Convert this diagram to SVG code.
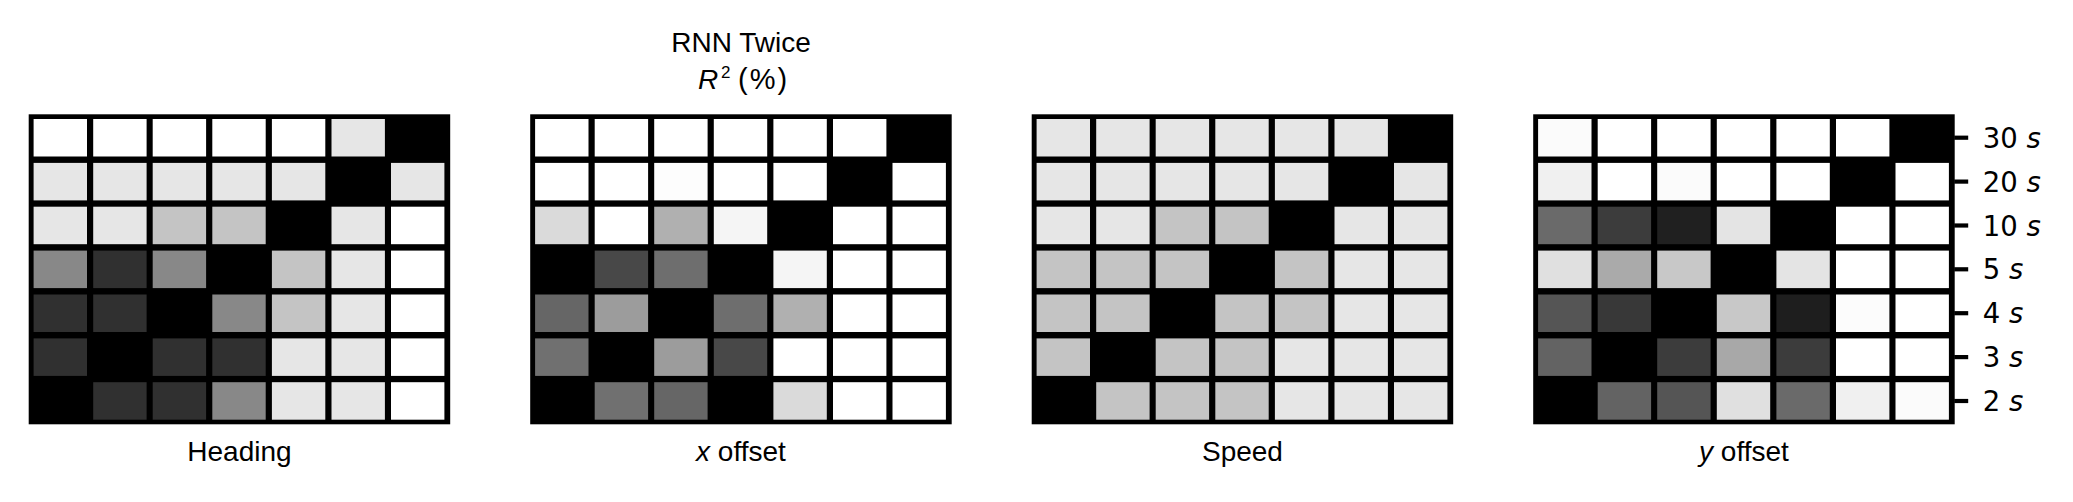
<svg xmlns="http://www.w3.org/2000/svg" width="2073" height="502" viewBox="0 0 2073 502">
<style>
.frame{fill:#000}
.lbl{font-family:"Liberation Sans",Arial,sans-serif;font-size:28px;fill:#000;text-anchor:middle}
.it{font-style:italic}
.tick{font-family:"DejaVu Sans",sans-serif;font-size:27.5px;fill:#000}
.tk{stroke:#000;stroke-width:4.2}
</style>
<rect width="2073" height="502" fill="#fff"/>
<g id="title">
<text class="lbl" x="741" y="51.7">RNN Twice</text>
<text font-family="Liberation Sans,Arial,sans-serif" font-size="28" y="89.3"><tspan x="698" font-style="italic">R</tspan><tspan x="721" y="78.3" font-size="17">2</tspan><tspan x="738" y="89.3" font-size="29" letter-spacing="2">(%)</tspan></text>
</g>

<g id="panel-heading" transform="translate(28.7,0)">
<rect class="frame" x="0" y="114.3" width="421.5" height="310"/>
<g>
<rect x="4.9" y="119" width="53.4" height="37.5" fill="#fff"/><rect x="64.5" y="119" width="53.4" height="37.5" fill="#fff"/><rect x="124" y="119" width="53.4" height="37.5" fill="#fff"/><rect x="183.6" y="119" width="53.4" height="37.5" fill="#fff"/><rect x="243.2" y="119" width="53.4" height="37.5" fill="#fff"/><rect x="302.8" y="119" width="53.4" height="37.5" fill="#e6e6e6"/><rect x="362.3" y="119" width="53.4" height="37.5" fill="#000"/>
<rect x="4.9" y="162.9" width="53.4" height="37.5" fill="#e6e6e6"/><rect x="64.5" y="162.9" width="53.4" height="37.5" fill="#e6e6e6"/><rect x="124" y="162.9" width="53.4" height="37.5" fill="#e6e6e6"/><rect x="183.6" y="162.9" width="53.4" height="37.5" fill="#e6e6e6"/><rect x="243.2" y="162.9" width="53.4" height="37.5" fill="#e6e6e6"/><rect x="302.8" y="162.9" width="53.4" height="37.5" fill="#000"/><rect x="362.3" y="162.9" width="53.4" height="37.5" fill="#e6e6e6"/>
<rect x="4.9" y="206.7" width="53.4" height="37.5" fill="#e6e6e6"/><rect x="64.5" y="206.7" width="53.4" height="37.5" fill="#e6e6e6"/><rect x="124" y="206.7" width="53.4" height="37.5" fill="#c4c4c4"/><rect x="183.6" y="206.7" width="53.4" height="37.5" fill="#c4c4c4"/><rect x="243.2" y="206.7" width="53.4" height="37.5" fill="#000"/><rect x="302.8" y="206.7" width="53.4" height="37.5" fill="#e6e6e6"/><rect x="362.3" y="206.7" width="53.4" height="37.5" fill="#fff"/>
<rect x="4.9" y="250.6" width="53.4" height="37.5" fill="#888"/><rect x="64.5" y="250.6" width="53.4" height="37.5" fill="#303030"/><rect x="124" y="250.6" width="53.4" height="37.5" fill="#888"/><rect x="183.6" y="250.6" width="53.4" height="37.5" fill="#000"/><rect x="243.2" y="250.6" width="53.4" height="37.5" fill="#c4c4c4"/><rect x="302.8" y="250.6" width="53.4" height="37.5" fill="#e6e6e6"/><rect x="362.3" y="250.6" width="53.4" height="37.5" fill="#fff"/>
<rect x="4.9" y="294.5" width="53.4" height="37.5" fill="#303030"/><rect x="64.5" y="294.5" width="53.4" height="37.5" fill="#303030"/><rect x="124" y="294.5" width="53.4" height="37.5" fill="#000"/><rect x="183.6" y="294.5" width="53.4" height="37.5" fill="#888"/><rect x="243.2" y="294.5" width="53.4" height="37.5" fill="#c4c4c4"/><rect x="302.8" y="294.5" width="53.4" height="37.5" fill="#e6e6e6"/><rect x="362.3" y="294.5" width="53.4" height="37.5" fill="#fff"/>
<rect x="4.9" y="338.4" width="53.4" height="37.5" fill="#303030"/><rect x="64.5" y="338.4" width="53.4" height="37.5" fill="#000"/><rect x="124" y="338.4" width="53.4" height="37.5" fill="#303030"/><rect x="183.6" y="338.4" width="53.4" height="37.5" fill="#303030"/><rect x="243.2" y="338.4" width="53.4" height="37.5" fill="#e6e6e6"/><rect x="302.8" y="338.4" width="53.4" height="37.5" fill="#e6e6e6"/><rect x="362.3" y="338.4" width="53.4" height="37.5" fill="#fff"/>
<rect x="4.9" y="382.2" width="53.4" height="37.5" fill="#000"/><rect x="64.5" y="382.2" width="53.4" height="37.5" fill="#303030"/><rect x="124" y="382.2" width="53.4" height="37.5" fill="#303030"/><rect x="183.6" y="382.2" width="53.4" height="37.5" fill="#888"/><rect x="243.2" y="382.2" width="53.4" height="37.5" fill="#e6e6e6"/><rect x="302.8" y="382.2" width="53.4" height="37.5" fill="#e6e6e6"/><rect x="362.3" y="382.2" width="53.4" height="37.5" fill="#fff"/>
</g>
<text class="lbl" x="210.75" y="461">Heading</text>
</g>

<g id="panel-xoffset" transform="translate(530.2,0)">
<rect class="frame" x="0" y="114.3" width="421.5" height="310"/>
<g>
<rect x="4.9" y="119" width="53.4" height="37.5" fill="#fff"/><rect x="64.5" y="119" width="53.4" height="37.5" fill="#fff"/><rect x="124" y="119" width="53.4" height="37.5" fill="#fff"/><rect x="183.6" y="119" width="53.4" height="37.5" fill="#fff"/><rect x="243.2" y="119" width="53.4" height="37.5" fill="#fff"/><rect x="302.8" y="119" width="53.4" height="37.5" fill="#fff"/><rect x="362.3" y="119" width="53.4" height="37.5" fill="#000"/>
<rect x="4.9" y="162.9" width="53.4" height="37.5" fill="#fff"/><rect x="64.5" y="162.9" width="53.4" height="37.5" fill="#fff"/><rect x="124" y="162.9" width="53.4" height="37.5" fill="#fdfdfd"/><rect x="183.6" y="162.9" width="53.4" height="37.5" fill="#fff"/><rect x="243.2" y="162.9" width="53.4" height="37.5" fill="#fff"/><rect x="302.8" y="162.9" width="53.4" height="37.5" fill="#000"/><rect x="362.3" y="162.9" width="53.4" height="37.5" fill="#fff"/>
<rect x="4.9" y="206.7" width="53.4" height="37.5" fill="#dadada"/><rect x="64.5" y="206.7" width="53.4" height="37.5" fill="#fff"/><rect x="124" y="206.7" width="53.4" height="37.5" fill="#b0b0b0"/><rect x="183.6" y="206.7" width="53.4" height="37.5" fill="#f5f5f5"/><rect x="243.2" y="206.7" width="53.4" height="37.5" fill="#000"/><rect x="302.8" y="206.7" width="53.4" height="37.5" fill="#fff"/><rect x="362.3" y="206.7" width="53.4" height="37.5" fill="#fff"/>
<rect x="4.9" y="250.6" width="53.4" height="37.5" fill="#000"/><rect x="64.5" y="250.6" width="53.4" height="37.5" fill="#484848"/><rect x="124" y="250.6" width="53.4" height="37.5" fill="#6e6e6e"/><rect x="183.6" y="250.6" width="53.4" height="37.5" fill="#000"/><rect x="243.2" y="250.6" width="53.4" height="37.5" fill="#f5f5f5"/><rect x="302.8" y="250.6" width="53.4" height="37.5" fill="#fff"/><rect x="362.3" y="250.6" width="53.4" height="37.5" fill="#fff"/>
<rect x="4.9" y="294.5" width="53.4" height="37.5" fill="#666"/><rect x="64.5" y="294.5" width="53.4" height="37.5" fill="#9c9c9c"/><rect x="124" y="294.5" width="53.4" height="37.5" fill="#000"/><rect x="183.6" y="294.5" width="53.4" height="37.5" fill="#6e6e6e"/><rect x="243.2" y="294.5" width="53.4" height="37.5" fill="#b0b0b0"/><rect x="302.8" y="294.5" width="53.4" height="37.5" fill="#fff"/><rect x="362.3" y="294.5" width="53.4" height="37.5" fill="#fff"/>
<rect x="4.9" y="338.4" width="53.4" height="37.5" fill="#707070"/><rect x="64.5" y="338.4" width="53.4" height="37.5" fill="#000"/><rect x="124" y="338.4" width="53.4" height="37.5" fill="#9c9c9c"/><rect x="183.6" y="338.4" width="53.4" height="37.5" fill="#484848"/><rect x="243.2" y="338.4" width="53.4" height="37.5" fill="#fff"/><rect x="302.8" y="338.4" width="53.4" height="37.5" fill="#fff"/><rect x="362.3" y="338.4" width="53.4" height="37.5" fill="#fff"/>
<rect x="4.9" y="382.2" width="53.4" height="37.5" fill="#000"/><rect x="64.5" y="382.2" width="53.4" height="37.5" fill="#707070"/><rect x="124" y="382.2" width="53.4" height="37.5" fill="#666"/><rect x="183.6" y="382.2" width="53.4" height="37.5" fill="#000"/><rect x="243.2" y="382.2" width="53.4" height="37.5" fill="#dadada"/><rect x="302.8" y="382.2" width="53.4" height="37.5" fill="#fff"/><rect x="362.3" y="382.2" width="53.4" height="37.5" fill="#fff"/>
</g>
<text class="lbl" x="210.75" y="461"><tspan class="it">x</tspan> offset</text>
</g>

<g id="panel-speed" transform="translate(1031.7,0)">
<rect class="frame" x="0" y="114.3" width="421.5" height="310"/>
<g>
<rect x="4.9" y="119" width="53.4" height="37.5" fill="#e6e6e6"/><rect x="64.5" y="119" width="53.4" height="37.5" fill="#e6e6e6"/><rect x="124" y="119" width="53.4" height="37.5" fill="#e6e6e6"/><rect x="183.6" y="119" width="53.4" height="37.5" fill="#e6e6e6"/><rect x="243.2" y="119" width="53.4" height="37.5" fill="#e6e6e6"/><rect x="302.8" y="119" width="53.4" height="37.5" fill="#e6e6e6"/><rect x="362.3" y="119" width="53.4" height="37.5" fill="#000"/>
<rect x="4.9" y="162.9" width="53.4" height="37.5" fill="#e6e6e6"/><rect x="64.5" y="162.9" width="53.4" height="37.5" fill="#e6e6e6"/><rect x="124" y="162.9" width="53.4" height="37.5" fill="#e6e6e6"/><rect x="183.6" y="162.9" width="53.4" height="37.5" fill="#e6e6e6"/><rect x="243.2" y="162.9" width="53.4" height="37.5" fill="#e6e6e6"/><rect x="302.8" y="162.9" width="53.4" height="37.5" fill="#000"/><rect x="362.3" y="162.9" width="53.4" height="37.5" fill="#e6e6e6"/>
<rect x="4.9" y="206.7" width="53.4" height="37.5" fill="#e6e6e6"/><rect x="64.5" y="206.7" width="53.4" height="37.5" fill="#e6e6e6"/><rect x="124" y="206.7" width="53.4" height="37.5" fill="#c4c4c4"/><rect x="183.6" y="206.7" width="53.4" height="37.5" fill="#c4c4c4"/><rect x="243.2" y="206.7" width="53.4" height="37.5" fill="#000"/><rect x="302.8" y="206.7" width="53.4" height="37.5" fill="#e6e6e6"/><rect x="362.3" y="206.7" width="53.4" height="37.5" fill="#e6e6e6"/>
<rect x="4.9" y="250.6" width="53.4" height="37.5" fill="#c4c4c4"/><rect x="64.5" y="250.6" width="53.4" height="37.5" fill="#c4c4c4"/><rect x="124" y="250.6" width="53.4" height="37.5" fill="#c4c4c4"/><rect x="183.6" y="250.6" width="53.4" height="37.5" fill="#000"/><rect x="243.2" y="250.6" width="53.4" height="37.5" fill="#c4c4c4"/><rect x="302.8" y="250.6" width="53.4" height="37.5" fill="#e6e6e6"/><rect x="362.3" y="250.6" width="53.4" height="37.5" fill="#e6e6e6"/>
<rect x="4.9" y="294.5" width="53.4" height="37.5" fill="#c4c4c4"/><rect x="64.5" y="294.5" width="53.4" height="37.5" fill="#c4c4c4"/><rect x="124" y="294.5" width="53.4" height="37.5" fill="#000"/><rect x="183.6" y="294.5" width="53.4" height="37.5" fill="#c4c4c4"/><rect x="243.2" y="294.5" width="53.4" height="37.5" fill="#c4c4c4"/><rect x="302.8" y="294.5" width="53.4" height="37.5" fill="#e6e6e6"/><rect x="362.3" y="294.5" width="53.4" height="37.5" fill="#e6e6e6"/>
<rect x="4.9" y="338.4" width="53.4" height="37.5" fill="#c4c4c4"/><rect x="64.5" y="338.4" width="53.4" height="37.5" fill="#000"/><rect x="124" y="338.4" width="53.4" height="37.5" fill="#c4c4c4"/><rect x="183.6" y="338.4" width="53.4" height="37.5" fill="#c4c4c4"/><rect x="243.2" y="338.4" width="53.4" height="37.5" fill="#e6e6e6"/><rect x="302.8" y="338.4" width="53.4" height="37.5" fill="#e6e6e6"/><rect x="362.3" y="338.4" width="53.4" height="37.5" fill="#e6e6e6"/>
<rect x="4.9" y="382.2" width="53.4" height="37.5" fill="#000"/><rect x="64.5" y="382.2" width="53.4" height="37.5" fill="#c4c4c4"/><rect x="124" y="382.2" width="53.4" height="37.5" fill="#c4c4c4"/><rect x="183.6" y="382.2" width="53.4" height="37.5" fill="#c4c4c4"/><rect x="243.2" y="382.2" width="53.4" height="37.5" fill="#e6e6e6"/><rect x="302.8" y="382.2" width="53.4" height="37.5" fill="#e6e6e6"/><rect x="362.3" y="382.2" width="53.4" height="37.5" fill="#e6e6e6"/>
</g>
<text class="lbl" x="210.75" y="461">Speed</text>
</g>

<g id="panel-yoffset" transform="translate(1533.2,0)">
<rect class="frame" x="0" y="114.3" width="421.5" height="310"/>
<g>
<rect x="4.9" y="119" width="53.4" height="37.5" fill="#fbfbfb"/><rect x="64.5" y="119" width="53.4" height="37.5" fill="#fff"/><rect x="124" y="119" width="53.4" height="37.5" fill="#fff"/><rect x="183.6" y="119" width="53.4" height="37.5" fill="#fff"/><rect x="243.2" y="119" width="53.4" height="37.5" fill="#fff"/><rect x="302.8" y="119" width="53.4" height="37.5" fill="#fff"/><rect x="362.3" y="119" width="53.4" height="37.5" fill="#000"/>
<rect x="4.9" y="162.9" width="53.4" height="37.5" fill="#f0f0f0"/><rect x="64.5" y="162.9" width="53.4" height="37.5" fill="#fff"/><rect x="124" y="162.9" width="53.4" height="37.5" fill="#fbfbfb"/><rect x="183.6" y="162.9" width="53.4" height="37.5" fill="#fff"/><rect x="243.2" y="162.9" width="53.4" height="37.5" fill="#fff"/><rect x="302.8" y="162.9" width="53.4" height="37.5" fill="#000"/><rect x="362.3" y="162.9" width="53.4" height="37.5" fill="#fff"/>
<rect x="4.9" y="206.7" width="53.4" height="37.5" fill="#6a6a6a"/><rect x="64.5" y="206.7" width="53.4" height="37.5" fill="#3c3c3c"/><rect x="124" y="206.7" width="53.4" height="37.5" fill="#202020"/><rect x="183.6" y="206.7" width="53.4" height="37.5" fill="#e4e4e4"/><rect x="243.2" y="206.7" width="53.4" height="37.5" fill="#000"/><rect x="302.8" y="206.7" width="53.4" height="37.5" fill="#fff"/><rect x="362.3" y="206.7" width="53.4" height="37.5" fill="#fff"/>
<rect x="4.9" y="250.6" width="53.4" height="37.5" fill="#e0e0e0"/><rect x="64.5" y="250.6" width="53.4" height="37.5" fill="#aaa"/><rect x="124" y="250.6" width="53.4" height="37.5" fill="#c8c8c8"/><rect x="183.6" y="250.6" width="53.4" height="37.5" fill="#000"/><rect x="243.2" y="250.6" width="53.4" height="37.5" fill="#e4e4e4"/><rect x="302.8" y="250.6" width="53.4" height="37.5" fill="#fff"/><rect x="362.3" y="250.6" width="53.4" height="37.5" fill="#fff"/>
<rect x="4.9" y="294.5" width="53.4" height="37.5" fill="#555"/><rect x="64.5" y="294.5" width="53.4" height="37.5" fill="#383838"/><rect x="124" y="294.5" width="53.4" height="37.5" fill="#000"/><rect x="183.6" y="294.5" width="53.4" height="37.5" fill="#c8c8c8"/><rect x="243.2" y="294.5" width="53.4" height="37.5" fill="#1e1e1e"/><rect x="302.8" y="294.5" width="53.4" height="37.5" fill="#fcfcfc"/><rect x="362.3" y="294.5" width="53.4" height="37.5" fill="#fff"/>
<rect x="4.9" y="338.4" width="53.4" height="37.5" fill="#636363"/><rect x="64.5" y="338.4" width="53.4" height="37.5" fill="#000"/><rect x="124" y="338.4" width="53.4" height="37.5" fill="#3c3c3c"/><rect x="183.6" y="338.4" width="53.4" height="37.5" fill="#a8a8a8"/><rect x="243.2" y="338.4" width="53.4" height="37.5" fill="#3c3c3c"/><rect x="302.8" y="338.4" width="53.4" height="37.5" fill="#fff"/><rect x="362.3" y="338.4" width="53.4" height="37.5" fill="#fff"/>
<rect x="4.9" y="382.2" width="53.4" height="37.5" fill="#000"/><rect x="64.5" y="382.2" width="53.4" height="37.5" fill="#636363"/><rect x="124" y="382.2" width="53.4" height="37.5" fill="#555"/><rect x="183.6" y="382.2" width="53.4" height="37.5" fill="#e0e0e0"/><rect x="243.2" y="382.2" width="53.4" height="37.5" fill="#6a6a6a"/><rect x="302.8" y="382.2" width="53.4" height="37.5" fill="#f0f0f0"/><rect x="362.3" y="382.2" width="53.4" height="37.5" fill="#fbfbfb"/>
</g>
<text class="lbl" x="210.75" y="461"><tspan class="it">y</tspan> offset</text>
<g id="yaxis">
<line class="tk" x1="421" y1="137.7" x2="435" y2="137.7"/>
<line class="tk" x1="421" y1="181.6" x2="435" y2="181.6"/>
<line class="tk" x1="421" y1="225.5" x2="435" y2="225.5"/>
<line class="tk" x1="421" y1="269.3" x2="435" y2="269.3"/>
<line class="tk" x1="421" y1="313.2" x2="435" y2="313.2"/>
<line class="tk" x1="421" y1="357.1" x2="435" y2="357.1"/>
<line class="tk" x1="421" y1="401" x2="435" y2="401"/>
<text class="tick" x="449.5" y="147.7">30 <tspan class="it">s</tspan></text>
<text class="tick" x="449.5" y="191.6">20 <tspan class="it">s</tspan></text>
<text class="tick" x="449.5" y="235.5">10 <tspan class="it">s</tspan></text>
<text class="tick" x="449.5" y="279.3">5 <tspan class="it">s</tspan></text>
<text class="tick" x="449.5" y="323.2">4 <tspan class="it">s</tspan></text>
<text class="tick" x="449.5" y="367.1">3 <tspan class="it">s</tspan></text>
<text class="tick" x="449.5" y="411">2 <tspan class="it">s</tspan></text>
</g>
</g>
</svg>
